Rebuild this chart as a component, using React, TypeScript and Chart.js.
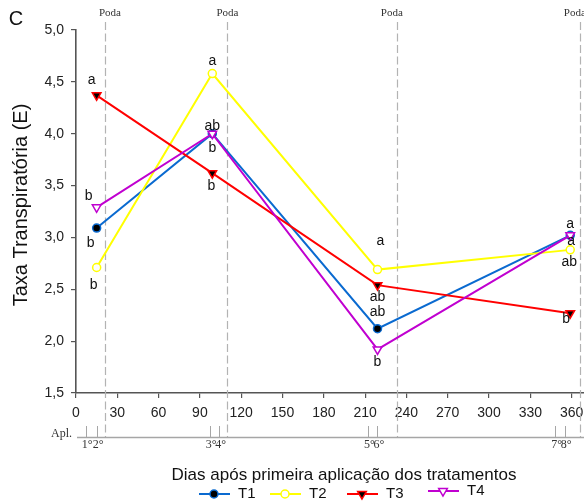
import React, { useEffect, useRef } from "react";
import { Chart, registerables } from "chart.js";

Chart.register(...registerables);

// ---------- data ----------
const seriesNames = ["T1", "T2", "T3", "T4"];
const sampleDays = [15, 99, 219, 359];
const t1Values = [3.09, 4.0, 2.12, 3.02];
const t2Values = [2.71, 4.58, 2.69, 2.88];
const t3Values = [4.37, 3.62, 2.54, 2.27];
const t4Values = [3.29, 4.0, 1.92, 3.02];
const t1Letters = ["b", "ab", "ab", "a"];
const t2Letters = ["b", "a", "a", "ab"];
const t3Letters = ["a", "b", "ab", "b"];
const t4Letters = ["b", "b", "b", "a"];
const podaDays = [21, 110, 233, 366];
const podaLabel = "Poda";
const applicationDays = [7, 15, 97, 104, 212, 219, 348, 355];
const applicationLabels = ["1°", "2°", "3°", "4°", "5°", "6°", "7°", "8°"];
const xMin = 0;
const xMax = 369;
const xStep = 30;
const yMin = 1.5;
const yMax = 5.0;
const yStep = 0.5;
const yTitle = "Taxa Transpiratória (E)";
const xTitle = "Dias após primeira aplicação dos tratamentos";
const panelLabel = "C";
const aplLabel = "Apl.";

// ---------- styles ----------
const SANS = '"Liberation Sans", Arial, sans-serif';
const SERIF = '"Liberation Serif", "Times New Roman", serif';
const seriesStyles = [
  { line: "#0a6ad0", fill: "#000000", shape: "circle", radius: 4 },
  { line: "#ffff00", fill: "#ffffff", shape: "circle", radius: 4 },
  { line: "#ff0000", fill: "#000000", shape: "triangle", radius: 5 },
  { line: "#c000d0", fill: "#ffffff", shape: "triangle", radius: 5 },
];
const letterOffsets = [
  [[-6, 15], [0, -8], [0, -17], [0, -11]],
  [[-3, 18], [0, -12], [3, -28], [-1, 12]],
  [[-5, -15], [-1, 13], [0, 12], [-4, 6]],
  [[-8, -11], [0, 14], [0, 13], [1, 6]],
];
const podaLabelOffsets = [5, 0, -5, -5];
const legendItems = [
  { x: 199, y: 494 },
  { x: 270, y: 494 },
  { x: 347, y: 494 },
  { x: 428, y: 491 },
];

const allValues = [t1Values, t2Values, t3Values, t4Values];
const allLetters = [t1Letters, t2Letters, t3Letters, t4Letters];

function drawMarker(ctx, shape, x, y, r, stroke, fill) {
  ctx.save();
  ctx.lineWidth = 1.5;
  ctx.strokeStyle = stroke;
  ctx.fillStyle = fill;
  ctx.beginPath();
  if (shape === "circle") {
    ctx.arc(x, y, r, 0, Math.PI * 2);
  } else {
    for (let i = 0; i < 3; i++) {
      const a = Math.PI / 2 + (i * 2 * Math.PI) / 3;
      const px = x + r * Math.cos(a);
      const py = y + r * Math.sin(a);
      if (i === 0) ctx.moveTo(px, py);
      else ctx.lineTo(px, py);
    }
    ctx.closePath();
  }
  ctx.fill();
  ctx.stroke();
  ctx.restore();
}

const overlayPlugin = {
  id: "overlay",
  beforeDatasetsDraw(chart) {
    const ctx = chart.ctx;
    const xs = chart.scales.x;
    ctx.save();
    ctx.strokeStyle = "#b3b3b3";
    ctx.lineWidth = 1.2;
    ctx.setLineDash([8, 3.5]);
    podaDays.forEach((d) => {
      const px = Math.round(xs.getPixelForValue(d)) + 0.5;
      ctx.beginPath();
      ctx.moveTo(px, 22);
      ctx.lineTo(px, 437);
      ctx.stroke();
    });
    ctx.restore();
  },
  afterDatasetsDraw(chart) {
    const ctx = chart.ctx;
    ctx.save();
    ctx.font = `14px ${SANS}`;
    ctx.fillStyle = "#111";
    ctx.textAlign = "center";
    ctx.textBaseline = "middle";
    allLetters.forEach((letters, si) => {
      const meta = chart.getDatasetMeta(si);
      letters.forEach((l, pi) => {
        const el = meta.data[pi];
        const [dx, dy] = letterOffsets[si][pi];
        ctx.fillText(l, el.x + dx, el.y + dy);
      });
    });
    ctx.restore();
  },
  afterDraw(chart) {
    const ctx = chart.ctx;
    const xs = chart.scales.x;
    ctx.save();
    ctx.font = `11px ${SERIF}`;
    ctx.fillStyle = "#333";
    ctx.textAlign = "center";
    ctx.textBaseline = "middle";
    podaDays.forEach((d, i) => {
      ctx.fillText(podaLabel, xs.getPixelForValue(d) + podaLabelOffsets[i], 13);
    });
    ctx.font = `20px ${SANS}`;
    ctx.fillStyle = "#111";
    ctx.fillText(panelLabel, 16, 19);
    ctx.save();
    ctx.translate(21, 205);
    ctx.rotate(-Math.PI / 2);
    ctx.font = `20px ${SANS}`;
    ctx.fillText(yTitle, 0, 0);
    ctx.restore();
    ctx.font = `17px ${SANS}`;
    ctx.fillText(xTitle, 344, 475);
    ctx.strokeStyle = "#a6a6a6";
    ctx.lineWidth = 1.3;
    ctx.beginPath();
    ctx.moveTo(77, 437.5);
    ctx.lineTo(584, 437.5);
    ctx.stroke();
    ctx.lineWidth = 1;
    applicationDays.forEach((d) => {
      const px = Math.round(xs.getPixelForValue(d)) + 0.5;
      ctx.beginPath();
      ctx.moveTo(px, 426);
      ctx.lineTo(px, 437);
      ctx.stroke();
    });
    ctx.font = `12px ${SERIF}`;
    ctx.fillStyle = "#333";
    applicationDays.forEach((d, i) => {
      ctx.fillText(applicationLabels[i], xs.getPixelForValue(d) + 1.5, 445);
    });
    ctx.textAlign = "right";
    ctx.fillText(aplLabel, 72, 434);
    ctx.textAlign = "left";
    ctx.font = `15px ${SANS}`;
    seriesNames.forEach((name, i) => {
      const st = seriesStyles[i];
      const { x, y } = legendItems[i];
      ctx.strokeStyle = st.line;
      ctx.lineWidth = 2;
      ctx.beginPath();
      ctx.moveTo(x, y);
      ctx.lineTo(x + 31, y);
      ctx.stroke();
      drawMarker(ctx, st.shape, x + 15, y, st.radius, st.line, st.fill);
      ctx.fillStyle = "#111";
      ctx.fillText(name, x + 39, y);
    });
    ctx.restore();
  },
};

export default function App() {
  const ref = useRef(null);
  useEffect(() => {
    document.body.style.margin = "0";
    const canvas = ref.current;
    const datasets = seriesNames.map((name, i) => {
      const st = seriesStyles[i];
      return {
        label: name,
        data: sampleDays.map((d, k) => ({ x: d, y: allValues[i][k] })),
        borderColor: st.line,
        borderWidth: 2,
        backgroundColor: st.fill,
        pointBackgroundColor: st.fill,
        pointBorderColor: st.line,
        pointBorderWidth: 1.5,
        pointRadius: st.radius,
        pointStyle: st.shape,
        pointRotation: st.shape === "triangle" ? 180 : 0,
        tension: 0,
        fill: false,
        order: 4 - i,
        clip: false,
      };
    });
    const chart = new Chart(canvas, {
      type: "line",
      data: { datasets },
      plugins: [overlayPlugin],
      options: {
        responsive: false,
        animation: false,
        layout: { autoPadding: false, padding: { top: 30, right: 0, bottom: 0, left: 0 } },
        plugins: { legend: { display: false }, tooltip: { enabled: false } },
        scales: {
          x: {
            type: "linear",
            min: xMin,
            max: xMax,
            ticks: {
              stepSize: xStep,
              includeBounds: false,
              autoSkip: false,
              maxRotation: 0,
              padding: 7,
              color: "#222",
              font: { family: SANS, size: 14 },
            },
            afterBuildTicks: (s) => {
              s.ticks = s.ticks.filter((t) => t.value % xStep === 0 && t.value <= 360);
            },
            afterFit: (s) => {
              s.height = 111;
              s.paddingLeft = 0;
              s.paddingRight = 0;
            },
            grid: { drawOnChartArea: false, drawTicks: true, tickLength: 5, color: "#555", lineWidth: 1.2 },
            border: { color: "#555", width: 1.6 },
          },
          y: {
            type: "linear",
            min: yMin,
            max: yMax,
            ticks: {
              stepSize: yStep,
              padding: 7,
              color: "#222",
              font: { family: SANS, size: 14 },
              callback: (v) => Number(v).toFixed(1).replace(".", ","),
            },
            afterFit: (s) => {
              s.width = 76;
            },
            grid: { drawOnChartArea: false, drawTicks: true, tickLength: 5, color: "#555", lineWidth: 1.2 },
            border: { color: "#555", width: 1.6 },
          },
        },
      },
    });
    return () => chart.destroy();
  }, []);
  return (
    <div style={{ width: 584, height: 504 }}>
      <canvas ref={ref} width={584} height={504} style={{ display: "block" }} />
    </div>
  );
}
